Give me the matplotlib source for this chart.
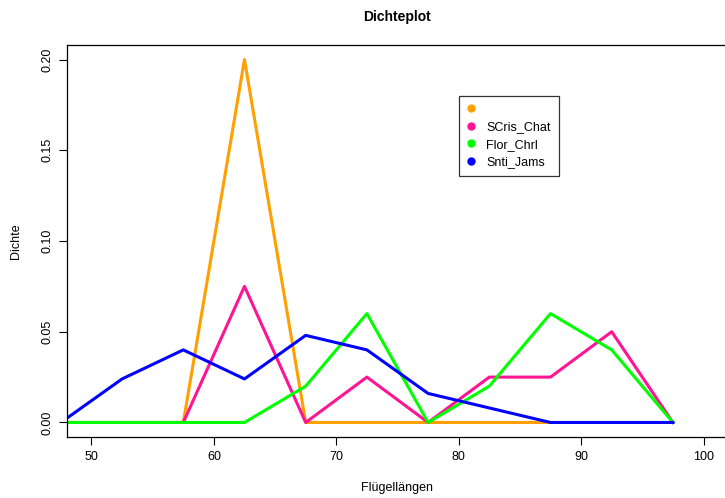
import matplotlib
matplotlib.use("Agg")
import matplotlib.pyplot as plt

# Mittelpunkte der Klassen (Breite 5)
mitten = [47.5, 52.5, 57.5, 62.5, 67.5, 72.5, 77.5, 82.5, 87.5, 92.5, 97.5]

# Dichten je Gruppe
orange_x = [47.5, 52.5, 57.5, 62.5, 67.5, 72.5, 77.5, 82.5, 87.5]
orange_y = [0, 0, 0, 0.20, 0, 0, 0, 0, 0]
scris_chat = [0, 0, 0, 0.075, 0, 0.025, 0, 0.025, 0.025, 0.05, 0]
flor_chrl = [0, 0, 0, 0, 0.02, 0.06, 0, 0.02, 0.06, 0.04, 0]
snti_jams = [0, 0.024, 0.040, 0.024, 0.048, 0.040, 0.016, 0.008, 0, 0, 0]

namen = ["", "SCris_Chat", "Flor_Chrl", "Snti_Jams"]
farben = ["#FFA000", "#FF1493", "#00FF00", "#0000FF"]

plt.rcParams["font.family"] = ["Liberation Sans", "DejaVu Sans"]

fig = plt.figure(figsize=(7.25, 4.98), dpi=100)
ax = fig.add_axes([67 / 725, 1 - 437 / 498, 661 / 725, 392 / 498])

lw = 2.2
ax.plot(orange_x, orange_y, color=farben[0], lw=lw)
ax.plot(mitten, scris_chat, color=farben[1], lw=lw)
ax.plot(mitten, flor_chrl, color=farben[2], lw=lw)
ax.plot(mitten, snti_jams, color=farben[3], lw=lw)

ax.set_xlim(48, 102)
ax.set_ylim(-0.008, 0.208)
ax.set_xticks([50, 60, 70, 80, 90, 100])
ax.set_yticks([0.00, 0.05, 0.10, 0.15, 0.20])
ax.set_yticklabels(["0.00", "0.05", "0.10", "0.15", "0.20"], rotation=90, va="center")
ax.tick_params(labelsize=9, length=6, width=0.8, pad=4)
for s in ax.spines.values():
    s.set_linewidth(0.9)

ax.set_title("Dichteplot", fontsize=10, fontweight="bold", pad=17)
ax.set_xlabel("Flügellängen", fontsize=9, labelpad=14)
ax.set_ylabel("Dichte", fontsize=9, labelpad=14)

# Legende mit Punkten
handles = [plt.Line2D([], [], marker="o", ls="", color=c, markersize=5) for c in farben]
leg = ax.legend(handles, namen, loc="upper left", bbox_to_anchor=(392 / 661, 1 - 51 / 392),
                frameon=True, fancybox=False, fontsize=9, handlelength=0.8,
                handletextpad=0.8, borderpad=0.6, labelspacing=0.45, borderaxespad=0)
leg.get_frame().set_edgecolor("black")
leg.get_frame().set_linewidth(0.9)

fig.savefig("out.png", dpi=100)
